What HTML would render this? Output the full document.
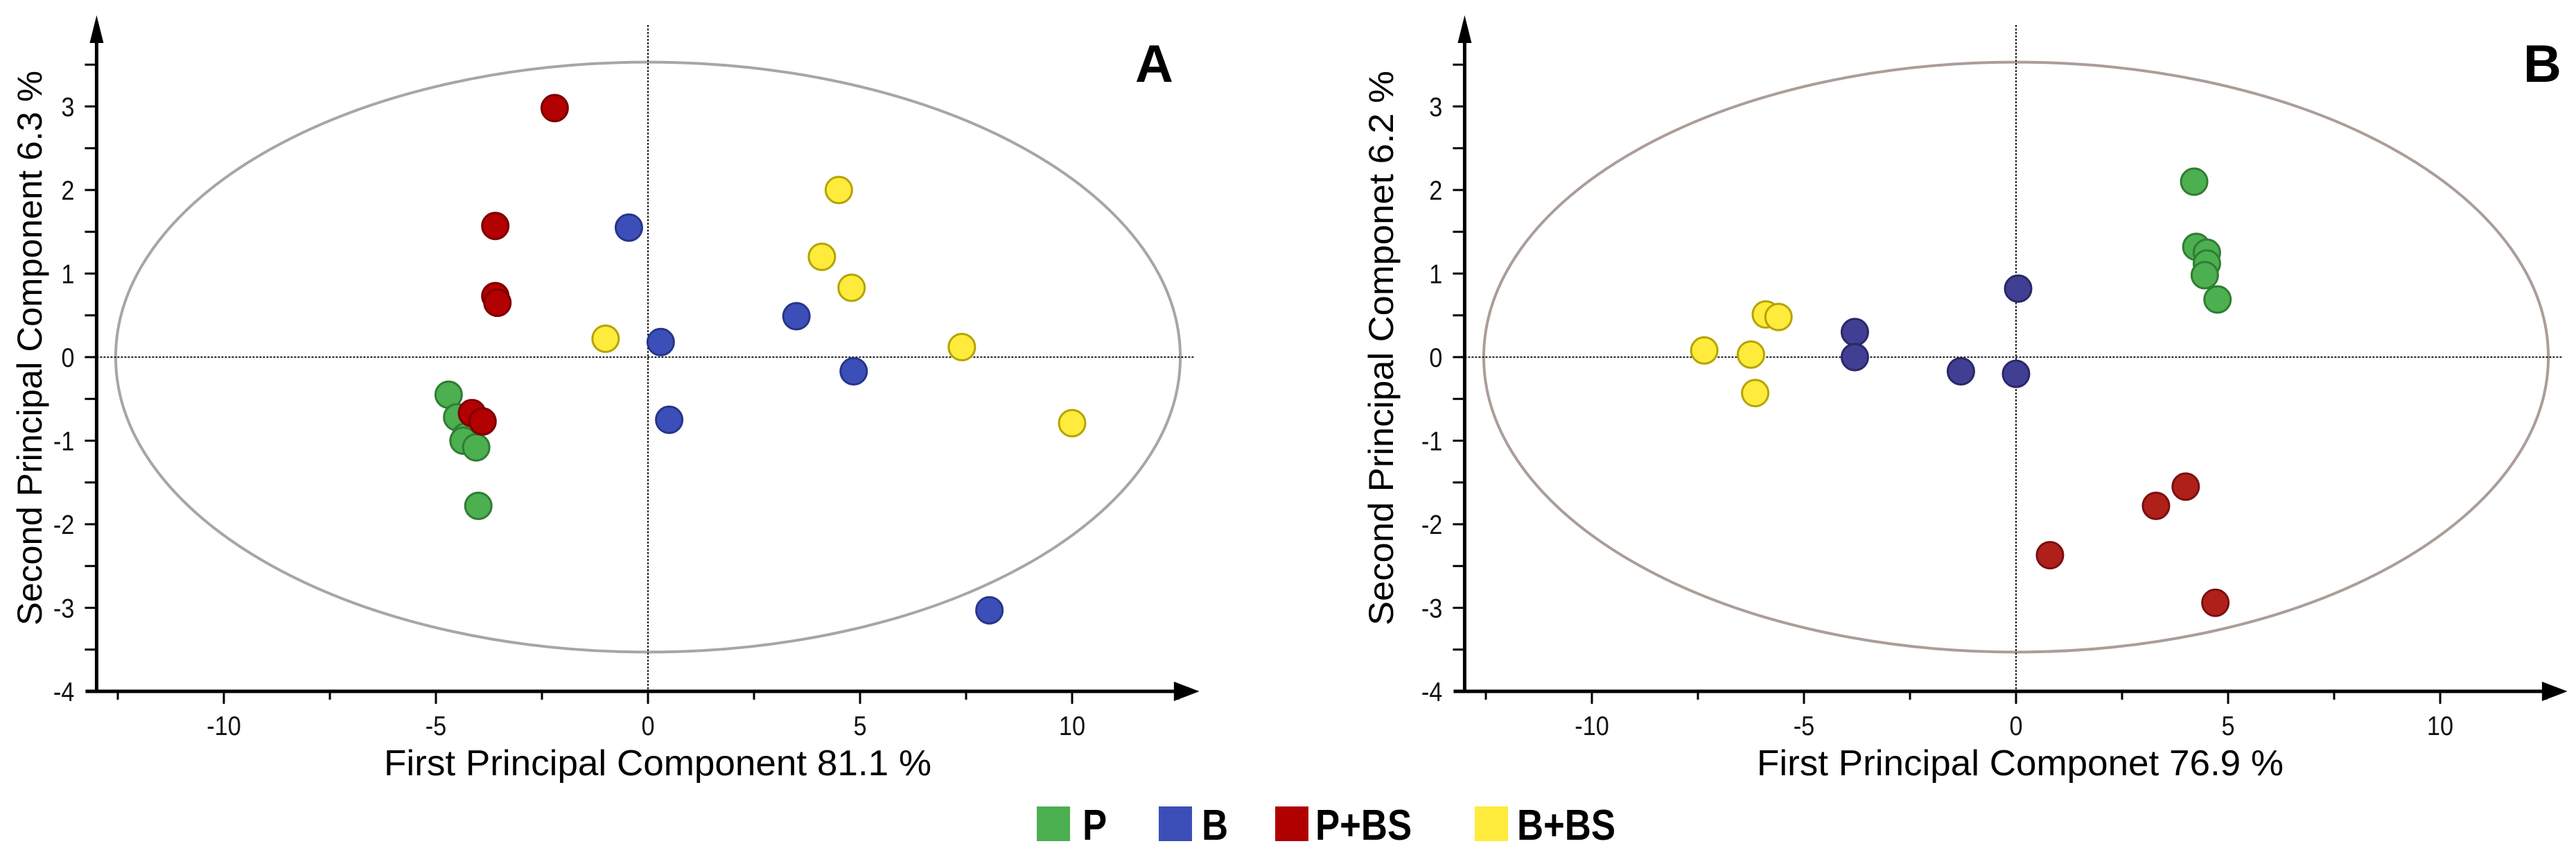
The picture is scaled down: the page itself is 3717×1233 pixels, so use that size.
<!DOCTYPE html>
<html><head><meta charset="utf-8"><style>
html,body{margin:0;padding:0;background:#fff;}
svg{display:block;font-family:"Liberation Sans",Arial,sans-serif;}
</style></head><body>
<svg id="fig" width="3717" height="1233" viewBox="0 0 3717 1233" xmlns="http://www.w3.org/2000/svg"></svg>
<script>
// Panel A data
const aP_x = [-4.7,-4.5,-4.3,-4.35,-4.05,-4.0];
const aP_y = [-0.45,-0.72,-0.95,-1.0,-1.08,-1.78];
const aB_x = [-0.45,0.3,0.5,3.5,4.85,8.05];
const aB_y = [1.55,0.18,-0.75,0.49,-0.17,-3.03];
const aPBS_x = [-2.2,-3.6,-3.6,-3.55,-4.15,-3.9];
const aPBS_y = [2.98,1.57,0.73,0.65,-0.67,-0.77];
const aBBS_x = [4.5,4.1,4.8,-1.0,7.4,10.0];
const aBBS_y = [2.0,1.2,0.83,0.22,0.12,-0.79];
// Panel B data
const bP_x = [4.2,4.25,4.5,4.5,4.45,4.75];
const bP_y = [2.1,1.32,1.25,1.12,0.98,0.69];
const bB_x = [0.05,-3.8,-3.8,-1.3,0.0];
const bB_y = [0.82,0.3,0.0,-0.17,-0.2];
const bPBS_x = [4.0,3.3,0.8,4.7];
const bPBS_y = [-1.55,-1.78,-2.37,-2.94];
const bBBS_x = [-5.9,-5.6,-7.35,-6.25,-6.15];
const bBBS_y = [0.51,0.48,0.08,0.03,-0.43];
const xTicks = [-10,-5,0,5,10];
const yTicks = [3,2,1,0,-1,-2,-3,-4];
const legendLabels = ["P","B","P+BS","B+BS"];

const NS="http://www.w3.org/2000/svg";
const svg=document.getElementById('fig');
function mk(tag,attrs,parent){const e=document.createElementNS(NS,tag);for(const k in attrs)e.setAttribute(k,attrs[k]);(parent||svg).appendChild(e);return e;}

function panel(cfg){
  const g=mk('g',{});
  
  
  const x0=cfg.x0, y0=515, ux=61.2, uy=120.5;
  const sx=v=>x0+v*ux, sy=v=>y0-v*uy;
  const axX=sx(-13), axY=sy(-4);
  const el=mk('ellipse',{cx:sx(0),cy:sy(0),rx:12.55*ux,ry:3.53*uy,fill:'none',stroke:cfg.ellColor,'stroke-width':4},g);
  
  
  const hz=mk('line',{x1:axX,y1:sy(0),x2:sx(12.9),y2:sy(0),stroke:'#222','stroke-width':2,'stroke-dasharray':'3,2'},g);
  
  
  const vz=mk('line',{x1:sx(0),y1:36,x2:sx(0),y2:axY,stroke:'#222','stroke-width':2,'stroke-dasharray':'3,2'},g);
  
  
  const xa=mk('line',{x1:axX-16,y1:axY,x2:sx(12.6),y2:axY,stroke:'#000','stroke-width':5},g);
  
  
  const xarr=mk('polygon',{points:`${sx(12.4)},${axY-14} ${sx(13.0)},${axY} ${sx(12.4)},${axY+14}`,fill:'#000'},g);
  
  
  const ya=mk('line',{x1:axX,y1:axY+2,x2:axX,y2:55,stroke:'#000','stroke-width':5},g);
  
  
  const yarr=mk('polygon',{points:`${axX-10},${62} ${axX},${22} ${axX+10},${62}`,fill:'#000'},g);
  
  
  for(let v=-12.5;v<=12.6;v+=2.5){
    const major=Math.abs(v%5)<0.01;
    mk('line',{x1:sx(v),y1:axY,x2:sx(v),y2:axY+(major?18:12),stroke:'#000','stroke-width':3},g);
  }
  xTicks.forEach(v=>{
    const t=mk('text',{x:sx(v),y:1060,'text-anchor':'middle','font-size':39,fill:'#111',transform:`translate(${sx(v)},1060) scale(0.88,1) translate(${-sx(v)},-1060)`},g);
    t.textContent=v;
    
    
  });
  for(let v=-3.5;v<=3.6;v+=0.5){
    mk('line',{x1:axX-17,y1:sy(v),x2:axX,y2:sy(v),stroke:'#000','stroke-width':3},g);
  }
  yTicks.forEach(v=>{
    const lx=axX-32;
    const t=mk('text',{x:lx,y:sy(v)+14,'text-anchor':'end','font-size':39,fill:'#111',transform:`translate(${lx},${sy(v)}) scale(0.88,1) translate(${-lx},${-sy(v)})`},g);
    t.textContent=v;
    
    
  });
  const xt=mk('text',{x:cfg.xtX,y:1118,'font-size':52,fill:'#000',textLength:cfg.xtW,lengthAdjust:'spacingAndGlyphs'},g);
  xt.textContent=cfg.xTitle;
  
  
  const yt=mk('text',{x:0,y:0,'font-size':50,fill:'#000','text-anchor':'middle',textLength:800,lengthAdjust:'spacingAndGlyphs',transform:`translate(${cfg.ytX},502) rotate(-90)`},g);
  yt.textContent=cfg.yTitle;
  
  
  const pl=mk('text',{x:cfg.letterX,y:118,'font-size':76,'font-weight':'bold',fill:'#000'},g);
  pl.textContent=cfg.letter;
  
  
  cfg.series.forEach(s=>{
    s.xs.forEach((xv,i)=>{
      const c=mk('circle',{cx:sx(xv),cy:sy(s.ys[i]),r:19,fill:s.fill,stroke:s.stroke,'stroke-width':3},g);
      
      
    });
  });
}
panel({name:'panel-a',x0:935,ellColor:'#a6a6a6',letter:'A',letterX:1638,xTitle:'First Principal Component 81.1 %',xtX:554,xtW:790,yTitle:'Second Principal Component 6.3 %',ytX:60,
 series:[
  {key:'p',xs:aP_x,ys:aP_y,fill:'#4caf50',stroke:'#2f7d32'},
  {key:'b',xs:aB_x,ys:aB_y,fill:'#3c4fb8',stroke:'#27358a'},
  {key:'p-bs',xs:aPBS_x,ys:aPBS_y,fill:'#b30000',stroke:'#7a0000'},
  {key:'b-bs',xs:aBBS_x,ys:aBBS_y,fill:'#ffeb3b',stroke:'#b5a300'}]});
panel({name:'panel-b',x0:2909,ellColor:'#ab9d98',letter:'B',letterX:3641,xTitle:'First Principal Componet 76.9 %',xtX:2535,xtW:760,yTitle:'Second Principal Componet 6.2 %',ytX:2010,
 series:[
  {key:'p',xs:bP_x,ys:bP_y,fill:'#4caf50',stroke:'#2f7d32'},
  {key:'b',xs:bB_x,ys:bB_y,fill:'#413f93',stroke:'#2a2866'},
  {key:'p-bs',xs:bPBS_x,ys:bPBS_y,fill:'#b0201b',stroke:'#7a1010'},
  {key:'b-bs',xs:bBBS_x,ys:bBBS_y,fill:'#ffeb3b',stroke:'#b5a300'}]});
const legCols=['#4caf50','#3c4fb8','#b00000','#ffeb3b'];
const legSqX=[1496,1672,1840,2128];
const legTxX=[1562,1734,1898,2189];
const lg=mk('g',{});


legendLabels.forEach((lab,i)=>{
  const r=mk('rect',{x:legSqX[i],y:1163,width:48,height:50,fill:legCols[i]},lg);
  
  
  const t=mk('text',{x:legTxX[i],y:1211,'font-size':62,'font-weight':'bold',fill:'#000',transform:`translate(${legTxX[i]},0) scale(0.85,1) translate(${-legTxX[i]},0)`},lg);
  t.textContent=lab;
  
  
});
</script>
</body></html>
